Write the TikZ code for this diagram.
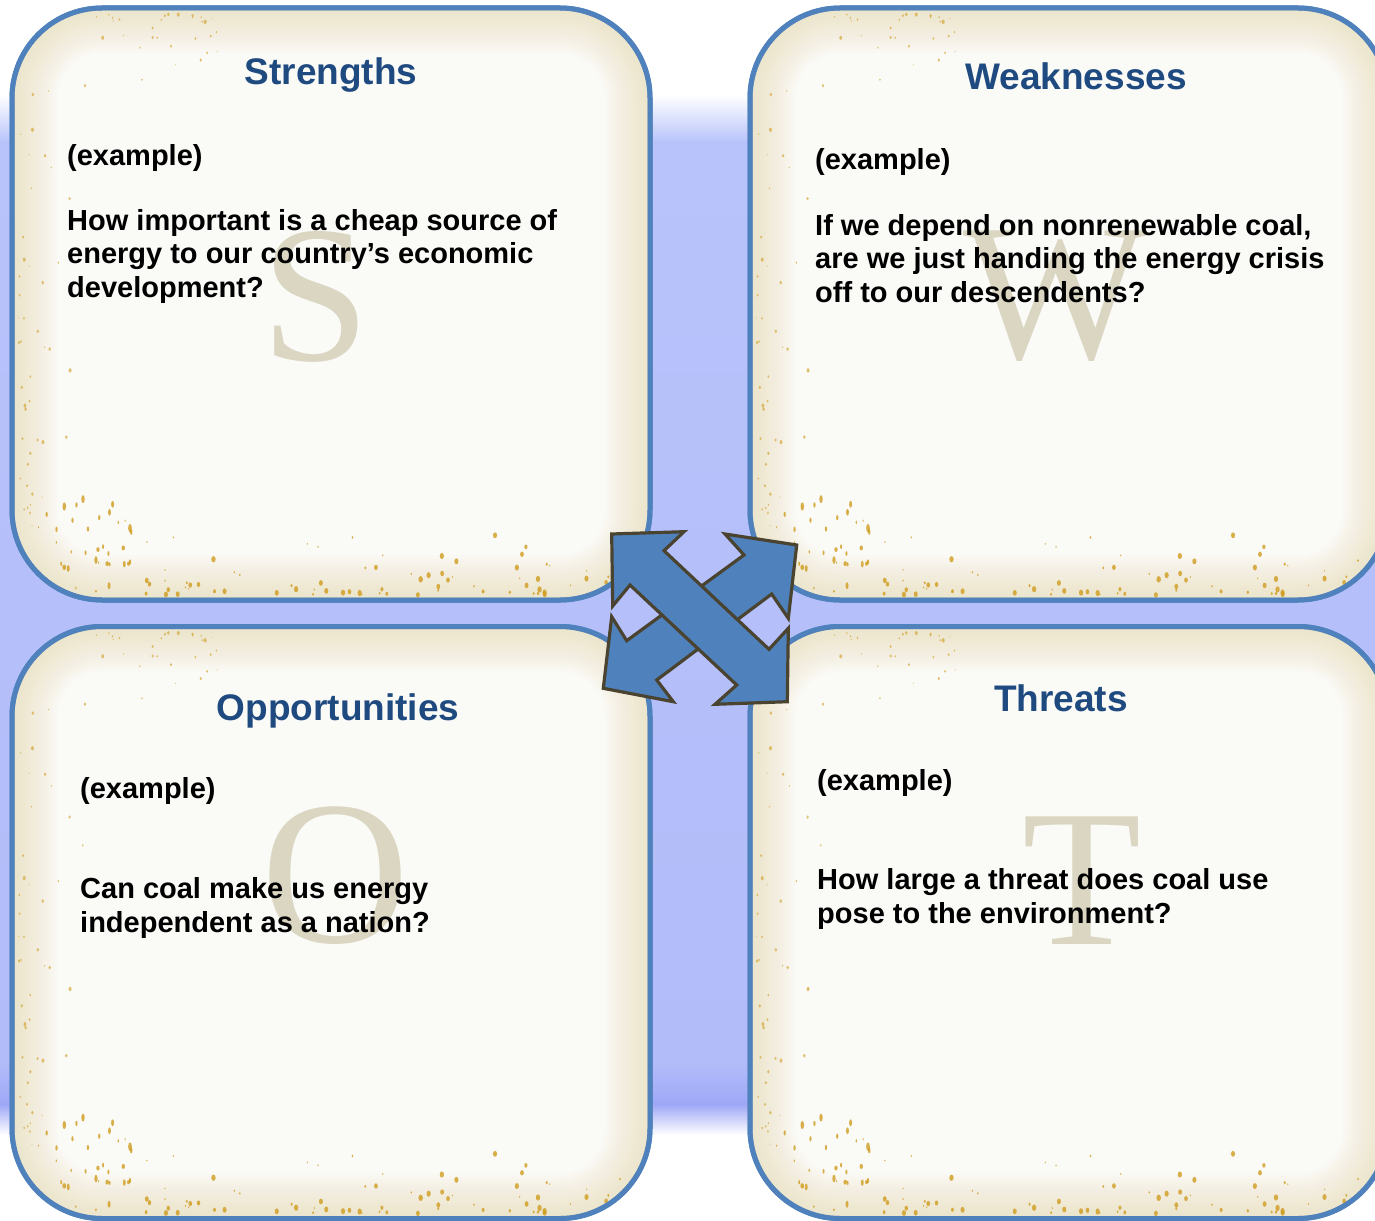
\documentclass[tikz,border=0pt]{standalone}
\usepackage{fontspec}
\setmainfont{Liberation Sans}
\newfontfamily\bigserif{Liberation Serif}
\definecolor{bordblue}{HTML}{4F81BD}
\definecolor{titleblue}{HTML}{1F4A80}
\definecolor{letterc}{HTML}{DAD6C2}
\definecolor{arrline}{HTML}{4A4330}
\definecolor{arrfill}{HTML}{4F81BD}
\definecolor{speck}{HTML}{D09C1E}
\definecolor{band}{HTML}{B8C3FB}
\definecolor{bandlow}{HTML}{B2BCF9}
\definecolor{banddark}{HTML}{9EA7F6}
\definecolor{boxin}{HTML}{FAFAF7}
\definecolor{boxglow}{HTML}{E6D7A8}
\tikzset{
  quad/.style={fill=boxin, draw=bordblue,
    line width=5pt, rounded corners=90pt, minimum width=638pt, minimum height=592pt,
    inner sep=0pt},
  ttl/.style={font=\fontsize{37}{42}\selectfont\bfseries, text=titleblue, anchor=base},
  body/.style={font=\fontsize{29}{33.5}\selectfont\bfseries, text=black, anchor=base west,
    align=left, inner sep=0pt},
  bigletter/.style={font=\bigserif\fontsize{195}{195}\selectfont, text=letterc, anchor=base},
  arrowpoly/.style={fill=arrfill, draw=arrline, line width=3.2pt, line join=miter}
}
\newcommand\boxdeco[2]{%
  \begin{scope}
    \clip[rounded corners=90pt] (#1,#2) rectangle ++(638,592);
    \foreach \w in {90,84,...,6}{
      \draw[boxglow, line width=\w pt, opacity=0.045, rounded corners=90pt]
        (#1,#2) rectangle ++(638,592);
    }
    \pgfmathsetseed{17}
    \foreach \i in {1,...,90}{
      \pgfmathsetmacro\xx{#1+8+rnd*620}
      \pgfmathsetmacro\yy{#2+592-5-rnd*rnd*70}
      \pgfmathsetmacro\rr{0.8+rnd*2.4}
      \fill[speck, opacity=0.8] (\xx,\yy) ellipse ({\rr*0.7pt} and {\rr pt});
    }
    \foreach \i in {1,...,30}{
      \pgfmathsetmacro\xx{#1+15+rnd*110}
      \pgfmathsetmacro\yy{#2+592-10-rnd*100}
      \pgfmathsetmacro\rr{0.8+rnd*2.4}
      \fill[speck, opacity=0.8] (\xx,\yy) ellipse ({\rr*0.6pt} and {\rr*1.4pt});
    }
    \foreach \i in {1,...,45}{
      \pgfmathsetmacro\xx{#1+6+rnd*rnd*70}
      \pgfmathsetmacro\yy{#2+60+rnd*460}
      \pgfmathsetmacro\rr{0.6+rnd*1.6}
      \fill[speck, opacity=0.6] (\xx,\yy) ellipse ({\rr*0.7pt} and {\rr pt});
    }
    \foreach \i in {1,...,30}{
      \pgfmathsetmacro\xx{#1+80+rnd*130}
      \pgfmathsetmacro\yy{#2+6+rnd*rnd*80}
      \pgfmathsetmacro\rr{0.6+rnd*1.8}
      \fill[speck, opacity=0.6] (\xx,\yy) ellipse ({\rr*0.7pt} and {\rr pt});
    }
  \end{scope}
  \draw[bordblue, line width=5pt, rounded corners=90pt] (#1,#2) rectangle ++(638,592);}
\begin{document}
\begin{tikzpicture}[x=1pt,y=-1pt]
\clip (0,0) rectangle (1375,1220);
% background
\fill[white] (0,0) rectangle (1375,1220);
\shade[top color=white, bottom color=band] (0,95) rectangle (1375,142);
\shade[top color=band, bottom color=bandlow] (0,141) rectangle (1375,1065);
\shade[top color=bandlow, bottom color=banddark] (0,1064) rectangle (1375,1105);
\shade[top color=banddark, bottom color=white] (0,1104) rectangle (1375,1135);

% quadrants
\node[quad] (S) at (331,304) {};
\node[quad] (W) at (1069,304) {};
\node[quad] (O) at (331,922.5) {};
\node[quad] (T) at (1069,922.5) {};
\boxdeco{12}{8}
\boxdeco{750}{8}
\boxdeco{12}{626.5}
\boxdeco{750}{626.5}

% big letters
\node[bigletter] (bS) at (316,360) {S};
\node[bigletter] (bW) at (1056,358) {W};
\node[bigletter, font=\bigserif\fontsize{205}{205}\selectfont] (bO) at (336,942) {O};
\node[bigletter] (bT) at (1082,944) {T};

% titles
\node[ttl] (tS) at (331,85) {Strengths};
\node[ttl] (tW) at (1076,90) {Weaknesses};
\node[ttl] (tO) at (338,720) {Opportunities};
\node[ttl] (tT) at (1061,711) {Threats};

% bodies (anchor = baseline of last line)
\node[body] (eS) at (67,165) {(example)};
\node[body] (qS) at (67,297) {How important is a cheap source of\\energy to our country’s economic\\development?};
\node[body] (eW) at (815,169) {(example)};
\node[body] (qW) at (815,302) {If we depend on nonrenewable coal,\\are we just handing the energy crisis\\off to our descendents?};
\node[body] (eO) at (80,798) {(example)};
\node[body] (qO) at (80,932) {Can coal make us energy\\independent as a nation?};
\node[body] (eT) at (817,790) {(example)};
\node[body] (qT) at (817,923) {How large a threat does coal use\\pose to the environment?};

% central four-way arrow
\draw[arrowpoly] (796.7,545) -- (788.3,618.3) -- (771.7,594) -- (656.7,680) -- (673.3,701.7)
  -- (603.3,688.3) -- (611.7,616.7) -- (626.7,640.7) -- (744,555) -- (725,534) -- cycle;
\draw[arrowpoly] (611.7,534) -- (684,531.7) -- (664,550.7) -- (769,649.3) -- (788.3,628.3)
  -- (787.3,701.7) -- (715,704.3) -- (736.7,685) -- (630,585) -- (612.7,606) -- cycle;
\end{tikzpicture}
\end{document}
